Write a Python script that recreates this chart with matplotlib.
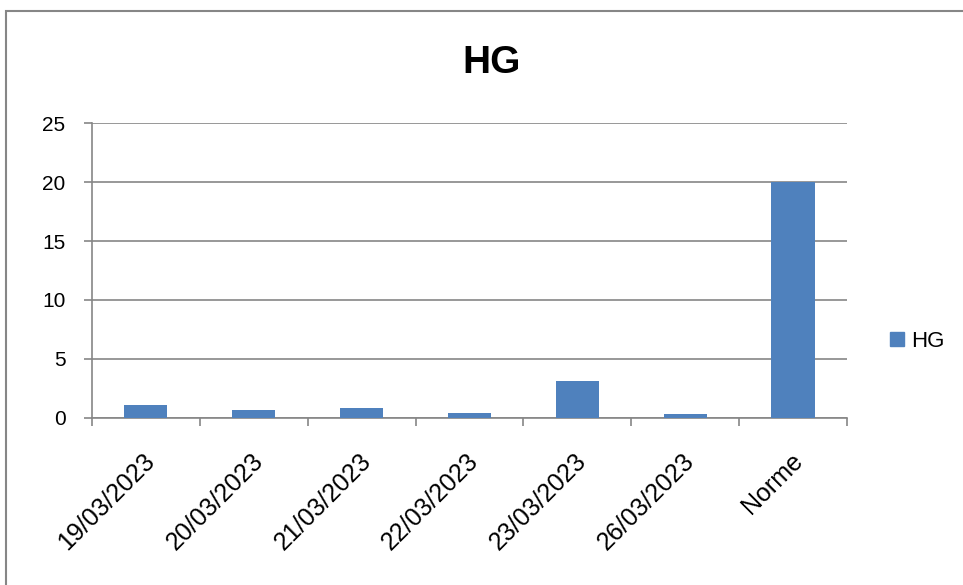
import matplotlib
matplotlib.use("Agg")
import matplotlib.pyplot as plt
from matplotlib.patches import Rectangle, Patch
from matplotlib.transforms import ScaledTranslation

categories = ["19/03/2023", "20/03/2023", "21/03/2023", "22/03/2023", "23/03/2023", "26/03/2023", "Norme"]
values = [1.1, 0.7, 0.85, 0.45, 3.15, 0.35, 20]
series_name = "HG"

plt.rcParams['font.family'] = ['Liberation Sans', 'DejaVu Sans']

fig = plt.figure(figsize=(9.63, 5.85), dpi=100)
ax = fig.add_axes([0.0955, 0.2855, 0.784, 0.5042])

x = list(range(len(categories)))
ax.bar(x, values, width=0.4, color="#4F81BD", zorder=3)
ax.set_xlim(-0.5, len(categories) - 0.5)
ax.set_ylim(0, 25)
ax.set_yticks([0, 5, 10, 15, 20, 25])
ax.yaxis.grid(True, color="#868686", linewidth=1.2, zorder=0)
ax.set_axisbelow(True)

ax.set_xticks([i - 0.5 for i in range(len(categories) + 1)], minor=False)
ax.set_xticklabels([])
ax.set_xticks(x, minor=True)
ax.set_xticklabels(categories, minor=True, rotation=45, ha="right", rotation_mode="anchor", fontsize=18)
ax.tick_params(axis="x", which="minor", length=0, pad=22)
ax.tick_params(axis="x", which="major", length=6, color="#868686", width=1.2)
ax.tick_params(axis="y", length=6, color="#868686", width=1.2, labelsize=15, pad=13)

offset = ScaledTranslation(-3 / 100, 0, fig.dpi_scale_trans)
for lbl in ax.get_xticklabels(minor=True):
    lbl.set_transform(lbl.get_transform() + offset)

for s in ["top", "right"]:
    ax.spines[s].set_visible(False)
for s in ["left", "bottom"]:
    ax.spines[s].set_color("#868686")
    ax.spines[s].set_linewidth(1.2)

fig.text(0.51, 0.892, "HG", ha="center", va="center", fontsize=28, fontweight="bold")

ax.legend(handles=[Patch(color="#4F81BD", label=series_name)], loc="center left",
          bbox_to_anchor=(1.031, 0.26), frameon=False, fontsize=16,
          handlelength=0.6, handleheight=0.6, handletextpad=0.35)

fig.patches.append(Rectangle((6 / 963, -0.1), 1.2, 1 - 11 / 585 + 0.1, transform=fig.transFigure,
                             fill=False, edgecolor="#868686", linewidth=1.5))

fig.savefig("out.png", dpi=100)
